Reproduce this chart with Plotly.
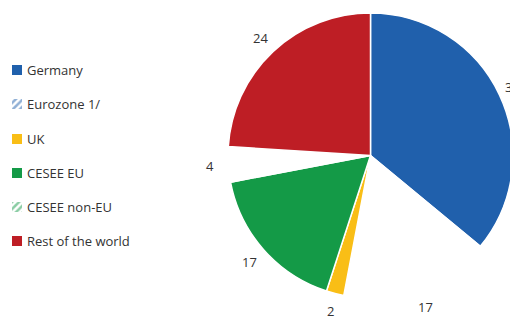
import math
import plotly.graph_objects as go

regions = ["Germany", "Eurozone 1/", "UK", "CESEE EU", "CESEE non-EU", "Rest of the world"]
shares = [36, 17, 2, 17, 4, 24]
colors = ["#2060AC", "#2060AC", "#F9BE16", "#149A47", "#149A47", "#BE1E25"]
hatched = [False, True, False, False, True, False]

# hatched slices show up blank in the pie itself
slice_colors = ["white" if h else c for c, h in zip(colors, hatched)]

W, H = 518, 320
PAGE = 8  # default body margin of the html page shifts the plot by this much

# pie centre and radius in page pixels
cx, cy, rad = 370.5 - PAGE, 155.5 - PAGE, 142.5

fig = go.Figure()

fig.add_trace(go.Pie(
    labels=regions, values=shares, sort=False, direction="clockwise", rotation=0,
    marker=dict(colors=slice_colors, line=dict(color="white", width=1.5)),
    textinfo="none",
    domain=dict(x=[(cx - rad) / W, (cx + rad) / W], y=[1 - (cy + rad) / H, 1 - (cy - rad) / H]),
    showlegend=False, hoverinfo="label+value",
))

# value labels a bit further out than plotly's own outside text, placed at each slice's mid angle
r_lab = 161
x_max = W - PAGE - 6  # keep labels from sliding off the right edge
total = sum(shares)
cum = 0
for v in shares:
    ang = 2 * math.pi * (cum + v / 2) / total
    cum += v
    fig.add_annotation(text=str(v), x=min(cx + r_lab * math.sin(ang), x_max), y=cy - r_lab * math.cos(ang),
                       xref="x", yref="y", xanchor="center", yanchor="middle", showarrow=False,
                       font=dict(size=13, color="#333333", family="Open Sans"))

# legend: small horizontal bars on a hidden pixel-scaled axis (patterns work there),
# labels as annotations next to them
legend_y = [70, 104, 139, 173, 207, 241]
for name, c, h, yp in zip(regions, colors, hatched, legend_y):
    if h:
        marker = dict(color="white", pattern=dict(shape="/", fgcolor=c, bgcolor="white", size=5, solidity=0.5))
    else:
        marker = dict(color=c)
    fig.add_trace(go.Bar(x=[10], y=[yp - PAGE], base=[12 - PAGE], width=[10], orientation="h",
                         marker=dict(line=dict(width=0), **marker),
                         showlegend=False, hoverinfo="skip"))
    fig.add_annotation(text=name, x=27 - PAGE - 2, y=yp - PAGE, xref="x", yref="y",
                       xanchor="left", yanchor="middle", showarrow=False,
                       font=dict(size=13, color="#333333", family="Open Sans"))

fig.update_xaxes(visible=False, range=[0, W], domain=[0, 1], fixedrange=True)
fig.update_yaxes(visible=False, range=[H, 0], domain=[0, 1], fixedrange=True)

fig.update_layout(
    width=W, height=H,
    margin=dict(l=0, r=0, t=0, b=0),
    paper_bgcolor="white", plot_bgcolor="rgba(0,0,0,0)",
    font=dict(family="Open Sans", size=12, color="#333333"),
    showlegend=False,
)

fig.write_html("out.html")
